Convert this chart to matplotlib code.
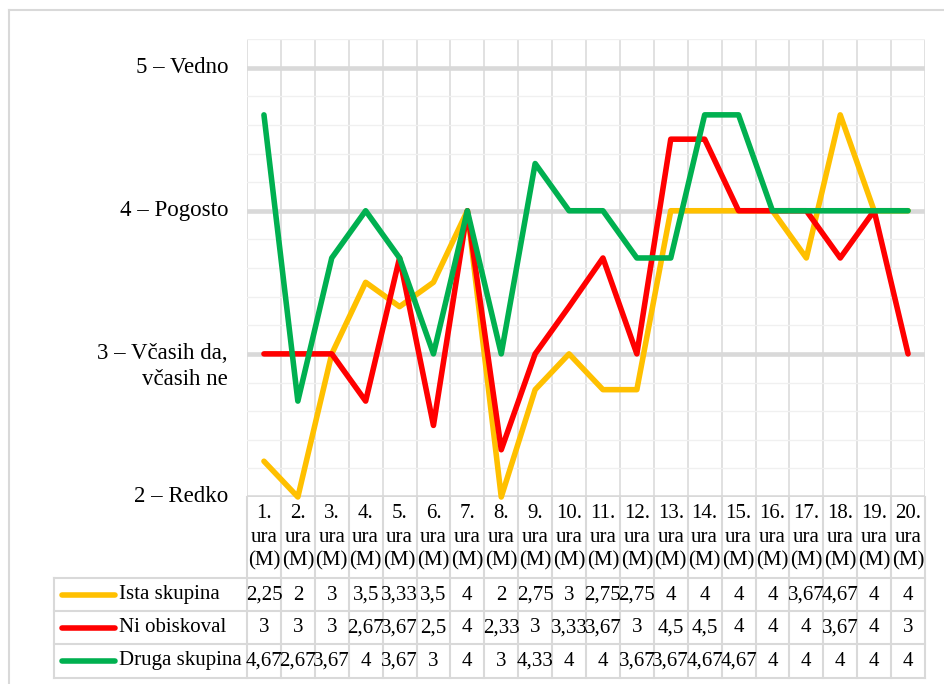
import matplotlib.pyplot as plt
import matplotlib.transforms as mtransforms
from matplotlib.lines import Line2D
from matplotlib.ticker import MultipleLocator
import numpy as np

plt.rcParams['font.family'] = ['Liberation Serif', 'DejaVu Serif']

W, H = 944, 684

categories = [f'{i}.\nura\n(M)' for i in range(1, 21)]
series_names = ['Ista skupina', 'Ni obiskoval', 'Druga skupina']
ista = [2.25, 2, 3, 3.5, 3.33, 3.5, 4, 2, 2.75, 3, 2.75, 2.75, 4, 4, 4, 4, 3.67, 4.67, 4, 4]
ni = [3, 3, 3, 2.67, 3.67, 2.5, 4, 2.33, 3, 3.33, 3.67, 3, 4.5, 4.5, 4, 4, 4, 3.67, 4, 3]
druga = [4.67, 2.67, 3.67, 4, 3.67, 3, 4, 3, 4.33, 4, 4, 3.67, 3.67, 4.67, 4.67, 4, 4, 4, 4, 4]
colors = ['#FFC000', '#FF0000', '#00B050']
ytick_values = [2, 3, 4, 5]
ytick_labels = ['2 – Redko', '3 – Včasih da,\nvčasih ne', '4 – Pogosto', '5 – Vedno']


def fx(px):
    return px / W


def fy(py):
    return 1 - py / H


def fmt(v):
    return f'{v:g}'.replace('.', ',')


grid_c = '#d9d9d9'
fs = 15

fig = plt.figure(figsize=(W / 100, H / 100), dpi=100)
ax = fig.add_axes([fx(247), fy(497), fx(925) - fx(247), fy(39) - fy(497)])

x = np.arange(len(categories)) + 0.5
for vals, c in zip([ista, ni, druga], colors):
    ax.plot(x, vals, color=c, lw=4, solid_capstyle='round',
            solid_joinstyle='round', zorder=3, clip_on=False)

ax.set_xlim(0, len(categories))
ax.set_ylim(2, 5.2)
ax.set_yticks(ytick_values)
ax.yaxis.set_minor_locator(MultipleLocator(0.2))
ax.set_xticks(np.arange(len(categories) + 1))
ax.grid(which='minor', axis='y', color='#f0f0f0', lw=1.0)
ax.grid(which='major', axis='x', color=grid_c, lw=1.1)
ax.grid(which='major', axis='y', color=grid_c, lw=3.3)
ax.tick_params(which='both', length=0, labelbottom=False, labelleft=False)
for s in ax.spines.values():
    s.set_visible(False)
ax.set_axisbelow(True)

# y labels, first line centred on the gridline
for v, lab in zip(ytick_values, ytick_labels):
    for k, line in enumerate(lab.split('\n')):
        ax.annotate(line, xy=(0, v), xycoords=('axes fraction', 'data'),
                    xytext=(-19 * 0.72, -k * 26 * 0.72), textcoords='offset points',
                    ha='right', va='center', fontsize=16.5)

# category labels and data table
tr = mtransforms.blended_transform_factory(ax.transData, fig.transFigure)
cat_rows = [513, 537, 561]
for xi, lab in zip(x, categories):
    for py, line in zip(cat_rows, lab.split('\n')):
        fig.text(xi, fy(py), line, transform=tr, ha='center', va='center', fontsize=fs)

for k in range(len(categories) + 1):
    fig.add_artist(Line2D([k, k], [fy(497), fy(678)], transform=tr, color=grid_c, lw=1.5))
for py in [578, 611, 644, 678]:
    fig.add_artist(Line2D([fx(54), fx(925)], [fy(py), fy(py)], color=grid_c, lw=1.5))
fig.add_artist(Line2D([fx(54), fx(54)], [fy(578), fy(678)], color=grid_c, lw=1.5))

row_centres = [595, 628, 661]
for py, name, vals, c in zip(row_centres, series_names, [ista, ni, druga], colors):
    fig.add_artist(Line2D([fx(62), fx(115)], [fy(py), fy(py)], color=c, lw=4,
                          solid_capstyle='round'))
    fig.text(fx(119), fy(py), name, ha='left', va='center', fontsize=fs)
    for xi, v in zip(x, vals):
        fig.text(xi, fy(py), fmt(v), transform=tr, ha='center', va='center', fontsize=fs)

# outer chart frame
fig.add_artist(Line2D([fx(9), 1], [fy(10), fy(10)], color=grid_c, lw=1.5))
fig.add_artist(Line2D([fx(9), fx(9)], [fy(10), 0], color=grid_c, lw=1.5))

fig.savefig('out.png', dpi=100)
